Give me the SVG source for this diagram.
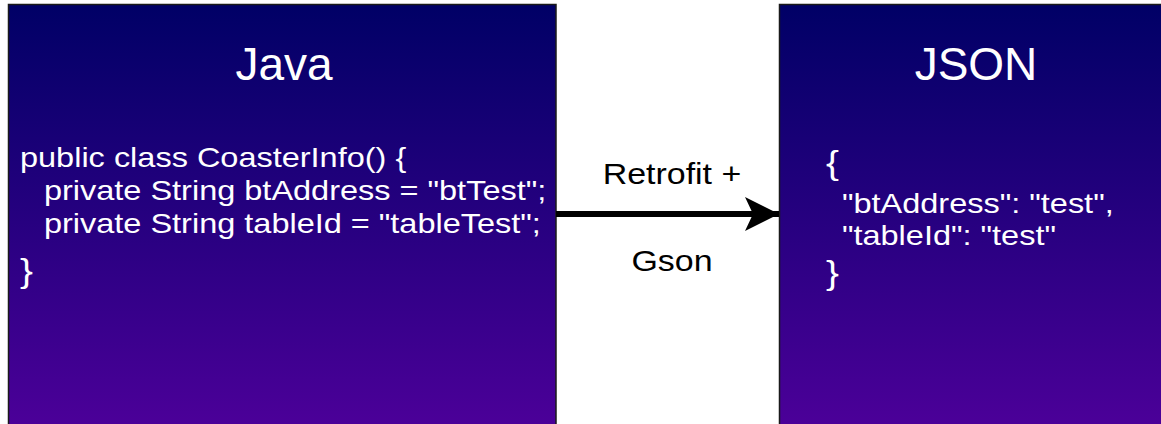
<svg xmlns="http://www.w3.org/2000/svg" width="1161" height="424" viewBox="0 0 1161 424">
  <style>
    .box { stroke: #1a1a1a; stroke-width: 1.5; fill: url(#grad); }
    .t { font-family: "Liberation Sans", Arial, sans-serif; fill: #ffffff; }
    .title { font-size: 46px; text-anchor: middle; }
    .code { font-size: 28.5px; }
    .brace { font-size: 34px; }
    .lbl { font-family: "Liberation Sans", Arial, sans-serif; fill: #000000; font-size: 29px; text-anchor: middle; }
  </style>
  <defs>
    <linearGradient id="grad" x1="0" y1="0" x2="0" y2="1">
      <stop offset="0" stop-color="#000066"/>
      <stop offset="1" stop-color="#4C0099"/>
    </linearGradient>
    <marker id="arrow" viewBox="0 0 34 34" refX="34" refY="17" markerWidth="34" markerHeight="34" markerUnits="userSpaceOnUse" orient="auto">
      <path d="M0,0 L34,17 L0,34 L8,17 Z" fill="#000000"/>
    </marker>
  </defs>
  <rect width="1161" height="424" fill="#ffffff"/>

  <g id="java">
    <rect class="box" x="8.5" y="4.5" width="547.5" height="425"/>
    <text class="t title" x="284" y="80">Java</text>
    <text class="t code" transform="translate(20,167) scale(1.14,1)">
      <tspan x="0" y="0">public class CoasterInfo() {</tspan>
      <tspan x="21" y="33">private String btAddress = "btTest";</tspan>
      <tspan x="21" y="66">private String tableId = "tableTest";</tspan>
      <tspan class="brace" x="0" y="115">}</tspan>
    </text>
  </g>

  <g id="json">
    <rect class="box" x="779.5" y="4.5" width="390" height="425"/>
    <text class="t title" x="976" y="80">JSON</text>
    <text class="t code" transform="translate(826,213) scale(1.14,1)">
      <tspan class="brace" x="0" y="-39">{</tspan>
      <tspan x="14" y="0">"btAddress": "test",</tspan>
      <tspan x="14" y="32">"tableId": "test"</tspan>
      <tspan class="brace" x="0" y="71">}</tspan>
    </text>
  </g>

  <g id="connectors">
    <line x1="556" y1="214" x2="779" y2="214" stroke="#000000" stroke-width="6" marker-end="url(#arrow)"/>
    <text class="lbl" transform="translate(672,184) scale(1.17,1)">Retrofit +</text>
    <text class="lbl" transform="translate(672,271) scale(1.17,1)">Gson</text>
  </g>
</svg>
